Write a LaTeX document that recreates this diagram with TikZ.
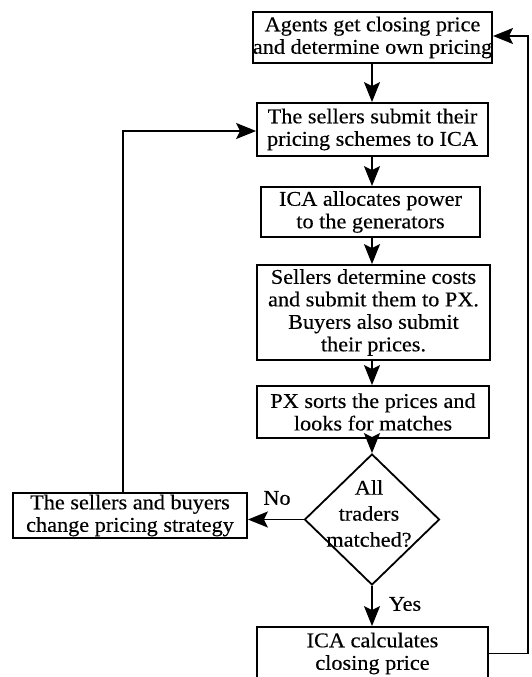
\documentclass[tikz,border=0pt]{standalone}
\usepackage{fontspec}
\setmainfont{Liberation Serif}[FakeStretch=1.06,FakeBold=0.3]
\usetikzlibrary{arrows.meta,shapes.geometric}
\begin{document}
\begin{tikzpicture}[x=1pt,y=-1pt,
  txt/.style={font=\fontsize{21}{22.5}\selectfont},
  box/.style={draw,line width=1.8pt,inner sep=0pt,align=center,txt},
  arr/.style={line width=1.8pt,-{Stealth[length=20pt,width=16pt,inset=4pt]}},
  ln/.style={line width=1.8pt}]
\useasboundingbox (0,0) rectangle (532,677);
\node[box,minimum width=231pt,minimum height=51pt] (b1) at (372.5,37.5) {Agents get closing price\\and determine own pricing};
\node[box,minimum width=231pt,minimum height=53pt] (b2) at (372.5,129.5) {The sellers submit their\\pricing schemes to ICA};
\node[box,minimum width=219pt,minimum height=50pt] (b3) at (370.5,212) {ICA allocates power\\to the generators};
\node[box,minimum width=233pt,minimum height=95pt] (b4) at (373.5,312.5) {Sellers determine costs\\and submit them to PX.\\Buyers also submit\\their prices.};
\node[box,minimum width=232pt,minimum height=52pt] (b5) at (373,412) {PX sorts the prices and\\looks for matches};
\node[draw,diamond,ln,minimum width=135pt,minimum height=131pt,inner sep=0pt] (dia) at (372,519.5) {};
\node[align=center,font=\fontsize{21}{26}\selectfont,inner sep=0pt] (diatxt) at (369,513.5) {All\\traders\\matched?};
\node[box,minimum width=234pt,minimum height=45pt] (ch) at (130,515.5) {The sellers and buyers\\change pricing strategy};
\node[box,minimum width=231pt,minimum height=53pt] (b6) at (372.5,653.5) {ICA calculates\\closing price};
\node[txt,inner sep=0pt] (no) at (277,498) {No};
\node[txt,inner sep=0pt] (yes) at (405,604) {Yes};
\coordinate (lp) at (123,131);
\coordinate (rp) at (528,36);
\draw[arr] (b1.south -| 372,0) -- (b2.north -| 372,0);
\draw[arr] (b2.south -| 372,0) -- (b3.north -| 372,0);
\draw[arr] (b3.south -| 372,0) -- (b4.north -| 372,0);
\draw[arr] (b4.south -| 372,0) -- (b5.north -| 372,0);
\draw[arr] (b5.south -| dia.north) -- (dia.north);
\draw[arr] (dia.west) -- (dia.west -| ch.east);
\draw[arr] (dia.south) -- (dia.south |- b6.north);
\draw[arr] (ch.north -| lp) -- (lp) -- (lp -| b2.west);
\draw[arr] (b6.east) -- (b6.east -| rp) -- (rp) -- (rp -| b1.east);
\end{tikzpicture}
\end{document}
